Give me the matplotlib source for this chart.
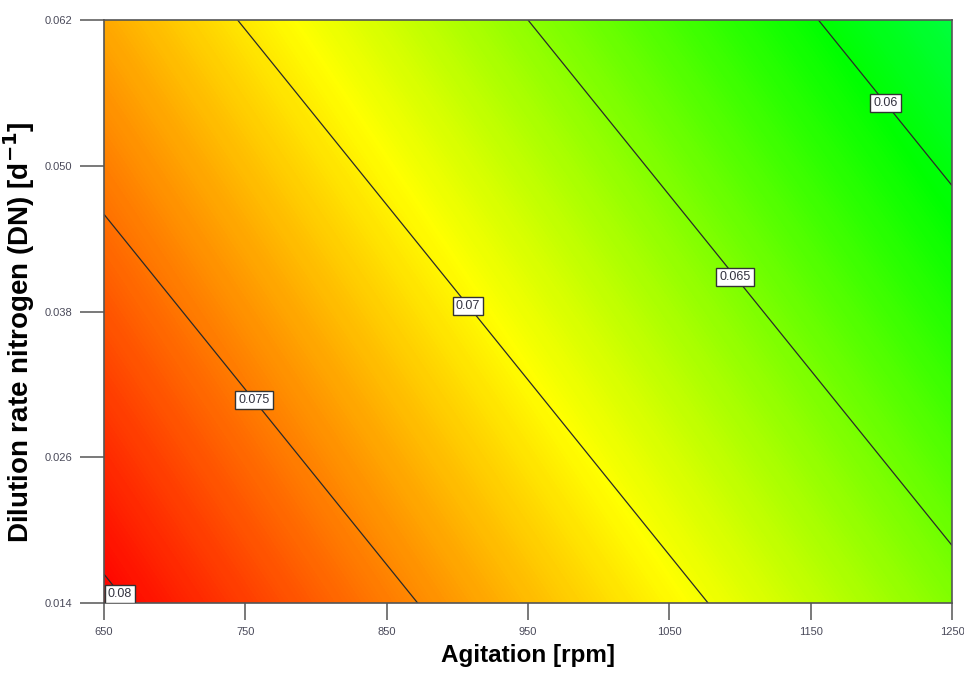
import numpy as np
import matplotlib.pyplot as plt
from matplotlib.colors import LinearSegmentedColormap

# Response surface: value at the four corners of the design space
agitation = [650, 1250]
dilution = [0.014, 0.062]
# rows = dilution, cols = agitation
response = [[0.0804, 0.0658],
            [0.0723, 0.0577]]
# the colour shading in the picture runs a bit flatter than the contours,
# so it gets its own corner values (same units as the response)
shade = [[0.0804, 0.0652],
         [0.0735, 0.0577]]

contour_levels = [0.06, 0.065, 0.07, 0.075, 0.08]
label_spots = [(1205, 0.0554), (1099, 0.0411), (910, 0.0387), (758, 0.0309), (668, 0.0154)]

x_ticks = [650, 750, 850, 950, 1050, 1150, 1250]
y_ticks = [0.014, 0.026, 0.038, 0.050, 0.062]
y_ticklabels = ["0.014", "0.026", "0.038", "0.050", "0.062"]

# colour stops (value -> colour) as in the Design-Expert gradient
cmap_values = [0.0577, 0.0602, 0.0700, 0.0804]
cmap_colors = ["#00ff3c", "#00ff00", "#ffff00", "#ff0000"]

plt.rcParams['font.family'] = ['Liberation Sans', 'DejaVu Sans']

vmin, vmax = cmap_values[0], cmap_values[-1]
stops = [((v - vmin) / (vmax - vmin), c) for v, c in zip(cmap_values, cmap_colors)]
cmap = LinearSegmentedColormap.from_list("de", stops)

X, Y = np.meshgrid(agitation, dilution)
Z = np.array(response)
S = np.array(shade)

fig = plt.figure(figsize=(9.64, 6.75), dpi=100)
ax = fig.add_axes([104 / 964, 72 / 675, 848 / 964, 583 / 675])

ax.contourf(X, Y, S, levels=np.linspace(0.0570, 0.0810, 300), cmap=cmap, vmin=vmin, vmax=vmax)
cs = ax.contour(X, Y, Z, levels=contour_levels, colors="#2a2a2a", linewidths=0.9)
labels = ax.clabel(cs, fmt=lambda v: f"{v:g}", fontsize=9, inline=False,
                   manual=label_spots, colors="#333340")
for t in labels:
    t.set_rotation(0)
    t.set_zorder(5)
    t.set_bbox(dict(boxstyle="square,pad=0.25", fc="white", ec="#333333", lw=1.0))

ax.set_xlim(650, 1250)
ax.set_ylim(0.014, 0.062)
ax.set_xticks(x_ticks)
ax.set_yticks(y_ticks)
ax.set_yticklabels(y_ticklabels)

for s in ax.spines.values():
    s.set_color("#555555")
    s.set_linewidth(1.2)
ax.tick_params(axis="x", direction="out", length=12, width=1.1, color="#555555",
               labelsize=8, labelcolor="#4a4a5a", pad=5)
ax.tick_params(axis="y", direction="out", length=17, width=1.1, color="#555555",
               labelsize=8, labelcolor="#4a4a5a", pad=6)

ax.set_xlabel("Agitation [rpm]", fontsize=17.5, fontweight="bold", labelpad=5)
ax.set_ylabel("Dilution rate nitrogen (DN) [d$^{\\mathbf{-1}}$]", fontsize=20,
              fontweight="bold")
ax.yaxis.set_label_coords(-67 / 848, 0.465)

fig.savefig("out.png", dpi=100)
